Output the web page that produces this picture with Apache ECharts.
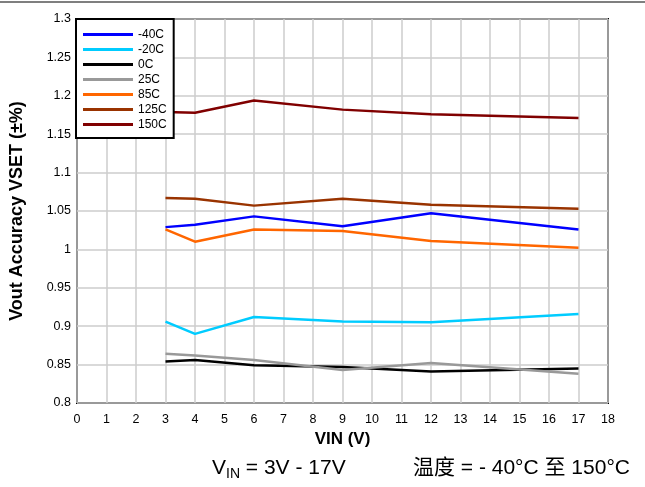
<!DOCTYPE html>
<html>
<head>
<meta charset="utf-8">
<script src="https://cdn.jsdelivr.net/npm/echarts@6/dist/echarts.min.js"></script>
<style>
html, body { margin: 0; padding: 0; background: #fff; }
#main { width: 645px; height: 487px; }
</style>
</head>
<body>
<div id="main"></div>
<script>
var vin = [3, 4, 6, 9, 12, 17];
var names = ['-40C', '-20C', '0C', '25C', '85C', '125C', '150C'];
var colors = ['#0000ff', '#00ccff', '#000000', '#999999', '#ff6600', '#993300', '#800000'];
var m40 = [1.029, 1.032, 1.043, 1.030, 1.047, 1.026];
var m20 = [0.906, 0.890, 0.912, 0.906, 0.905, 0.916];
var t0 = [0.854, 0.856, 0.849, 0.847, 0.841, 0.845];
var t25 = [0.864, 0.862, 0.856, 0.843, 0.852, 0.838];
var t85 = [1.026, 1.010, 1.026, 1.024, 1.011, 1.002];
var t125 = [1.067, 1.066, 1.057, 1.066, 1.058, 1.053];
var t150 = [1.179, 1.178, 1.194, 1.182, 1.176, 1.171];
var values = [m40, m20, t0, t25, t85, t125, t150];

var font = '"Liberation Sans", Arial, sans-serif';
var myChart = echarts.init(document.getElementById('main'));

var series = names.map(function (n, i) {
    return {
        name: n,
        type: 'line',
        symbol: 'none',
        data: vin.map(function (x, k) { return [x, values[i][k]]; }),
        lineStyle: { color: colors[i], width: 2.5 },
        itemStyle: { color: colors[i] }
    };
});

option = {
    backgroundColor: '#fff',
    animation: false,
    textStyle: { fontFamily: font },
    grid: {
        left: 77, right: 37, top: 19, bottom: 84,
        show: true, borderColor: '#000', borderWidth: 2
    },
    legend: {
        orient: 'vertical',
        left: 76, top: 19,
        data: names,
        icon: 'rect',
        itemWidth: 50, itemHeight: 3,
        itemGap: 0,
        padding: [8, 7, 6, 7],
        borderColor: '#000', borderWidth: 2,
        backgroundColor: '#fff',
        textStyle: { fontSize: 12, color: '#000', fontFamily: font, lineHeight: 15 },
        z: 10
    },
    xAxis: {
        type: 'value',
        min: 0, max: 18, interval: 1,
        name: 'VIN (V)',
        nameLocation: 'middle',
        nameGap: 26,
        nameTextStyle: { fontSize: 17, fontWeight: 'bold', color: '#000', fontFamily: font },
        axisLine: { show: false },
        axisTick: { show: false },
        axisLabel: { fontSize: 12.5, color: '#000', margin: 10, fontFamily: font },
        splitLine: { lineStyle: { color: '#cccccc', width: 1.5 } }
    },
    yAxis: {
        type: 'value',
        min: 0.8, max: 1.3, interval: 0.05,
        name: 'Vout Accuracy VSET (±%)',
        nameLocation: 'middle',
        nameGap: 51,
        nameTextStyle: { fontSize: 18, fontWeight: 'bold', color: '#000', fontFamily: font },
        axisLine: { show: false },
        axisTick: { show: false },
        axisLabel: { fontSize: 12.5, color: '#000', margin: 6, fontFamily: font },
        splitLine: { lineStyle: { color: '#cccccc', width: 1.5 } }
    },
    graphic: [
        {
            type: 'line',
            shape: { x1: 0, y1: 2, x2: 645, y2: 2 },
            style: { stroke: '#555', lineWidth: 1.5 }
        },
        {
            type: 'text',
            left: 212, top: 458,
            style: {
                text: '{a|V}{s|IN}{a| = 3V - 17V}',
                rich: {
                    a: { fontSize: 21, fontFamily: font, fill: '#000' },
                    s: { fontSize: 14, fontFamily: font, fill: '#000', padding: [12, 0, 0, 0] }
                }
            }
        },
        {
            type: 'text',
            left: 413, top: 458,
            style: {
                text: '温度 = - 40°C 至 150°C',
                fontSize: 21,
                fontFamily: '"Liberation Sans", "Noto Sans CJK SC", sans-serif',
                fill: '#000'
            }
        }
    ],
    series: series
};
myChart.setOption(option);
</script>
</body>
</html>
